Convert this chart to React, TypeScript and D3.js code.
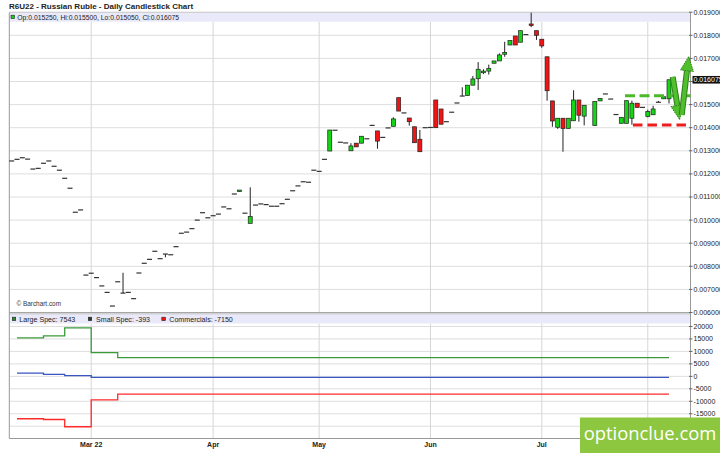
import React from "react";
import * as d3 from "d3";

// ---------- DATA ----------
const openP: (number | null)[] = [
  0.01256, 0.01263, 0.0127, 0.01264, 0.01221, 0.01224, 0.01246, 0.01256, 0.01233, 0.01216,
  0.01181, 0.01138, 0.01034, 0.01044, 0.00762, 0.0077, 0.00751, 0.00715, 0.00687, 0.00628,
  0.00733, 0.00684, 0.00687, 0.0066, 0.00771, 0.00813, 0.0083, 0.00865, 0.00833, 0.00853,
  0.0085, 0.00885, 0.00943, 0.00948, 0.00963, 0.01, 0.01032, 0.0101, 0.01019, 0.01026,
  0.01057, 0.01049, 0.01113, 0.01124, 0.0103, 0.00986, 0.01065, 0.0107, 0.01067, 0.0106,
  0.0106, 0.01071, 0.0109, 0.01127, 0.01148, 0.01166, 0.01164, 0.01216, 0.01211, 0.01263,
  0.01299, 0.01389, 0.01337, 0.01334, 0.013, 0.01333, 0.01333, 0.01352, 0.0141, 0.01386,
  0.01358, 0.01399, 0.01406, 0.0153, 0.01464, 0.01442, 0.01404, 0.0135, 0.014, 0.01401,
  0.0152, 0.01481, 0.01426, 0.01467, 0.01507, 0.01537, 0.01539, 0.01584, 0.01612, 0.01638,
  0.01645, 0.01679, 0.01689, 0.01718, 0.01758, 0.01797, 0.0177, 0.01803, 0.01849, 0.0182,
  0.01783, 0.01707, 0.01516, 0.01402, 0.01441, 0.01397, 0.0143, 0.0152, 0.0145, null,
  0.01409, 0.01516, 0.01546, 0.01524, 0.01457, 0.01419, 0.01419, 0.01441, 0.01506, 0.01488,
  0.01448, 0.01456, 0.0151, 0.01525, 0.01525,
];
const highP: (number | null)[] = [
  0.01256, 0.01263, 0.0127, 0.01264, 0.01221, 0.01224, 0.01246, 0.01256, 0.01233, 0.01216,
  0.01181, 0.01138, 0.01034, 0.01044, 0.00762, 0.0077, 0.00751, 0.00715, 0.00687, 0.00628,
  0.00733, 0.00772, 0.00687, 0.0066, 0.00771, 0.00813, 0.0083, 0.00865, 0.00833, 0.00853,
  0.0085, 0.00885, 0.00943, 0.00948, 0.00963, 0.01, 0.01032, 0.0101, 0.01019, 0.01026,
  0.01057, 0.01049, 0.01113, 0.0113, 0.0103, 0.01142, 0.01065, 0.0107, 0.01067, 0.0106,
  0.0106, 0.01071, 0.0109, 0.01127, 0.01148, 0.01166, 0.01164, 0.01216, 0.01211, 0.01263,
  0.0139, 0.01389, 0.01337, 0.01334, 0.01333, 0.01333, 0.01363, 0.01352, 0.0141, 0.01386,
  0.01358, 0.01399, 0.01445, 0.0153, 0.01464, 0.01442, 0.01404, 0.0139, 0.014, 0.01401,
  0.0152, 0.01481, 0.01426, 0.01467, 0.01507, 0.01575, 0.01584, 0.01624, 0.01684, 0.01653,
  0.01673, 0.01689, 0.01722, 0.01772, 0.01777, 0.01797, 0.0182, 0.01803, 0.01898, 0.0182,
  0.01783, 0.01707, 0.01516, 0.01441, 0.01441, 0.01441, 0.01562, 0.0152, 0.01497, null,
  0.01515, 0.01527, 0.01546, 0.01524, 0.01457, 0.01445, 0.01517, 0.01517, 0.01506, 0.01488,
  0.01478, 0.01495, 0.01516, 0.01534, 0.016075,
];
const lowP: (number | null)[] = [
  0.01256, 0.01263, 0.0127, 0.01264, 0.01221, 0.01224, 0.01246, 0.01256, 0.01233, 0.01216,
  0.01181, 0.01138, 0.01034, 0.01044, 0.00762, 0.0077, 0.00751, 0.00715, 0.00687, 0.00628,
  0.00733, 0.00684, 0.00687, 0.0066, 0.00771, 0.00813, 0.0083, 0.00865, 0.00833, 0.00839,
  0.0085, 0.00885, 0.00943, 0.00948, 0.00963, 0.01, 0.01032, 0.0101, 0.01019, 0.01026,
  0.01057, 0.01049, 0.01113, 0.01124, 0.0103, 0.00986, 0.01065, 0.0107, 0.01067, 0.0106,
  0.0106, 0.01071, 0.0109, 0.01127, 0.01148, 0.01166, 0.01164, 0.01216, 0.01211, 0.01263,
  0.01299, 0.01389, 0.01337, 0.01334, 0.013, 0.01317, 0.01333, 0.01352, 0.0141, 0.01309,
  0.01358, 0.01399, 0.01406, 0.01472, 0.01464, 0.01409, 0.01335, 0.01296, 0.014, 0.01401,
  0.014, 0.01415, 0.01426, 0.01467, 0.01507, 0.01537, 0.01539, 0.01584, 0.01563, 0.01632,
  0.0163, 0.01679, 0.01689, 0.01707, 0.01758, 0.01758, 0.0177, 0.01803, 0.01835, 0.0178,
  0.01746, 0.01517, 0.01404, 0.01395, 0.01296, 0.01397, 0.0143, 0.01426, 0.0141, null,
  0.01409, 0.01516, 0.01546, 0.01524, 0.01457, 0.01419, 0.01419, 0.01413, 0.01488, 0.01488,
  0.01445, 0.01456, 0.0151, 0.01525, 0.01505,
];
const closeP: (number | null)[] = [
  0.01256, 0.01263, 0.0127, 0.01264, 0.01221, 0.01224, 0.01246, 0.01256, 0.01233, 0.01216,
  0.01181, 0.01138, 0.01034, 0.01044, 0.00762, 0.0077, 0.00751, 0.00715, 0.00687, 0.00628,
  0.00733, 0.00684, 0.00687, 0.0066, 0.00771, 0.00813, 0.0083, 0.00865, 0.00833, 0.00853,
  0.0085, 0.00885, 0.00943, 0.00948, 0.00963, 0.01, 0.01032, 0.0101, 0.01019, 0.01026,
  0.01057, 0.01049, 0.01113, 0.0113, 0.0103, 0.01015, 0.01065, 0.0107, 0.01067, 0.0106,
  0.0106, 0.01071, 0.0109, 0.01127, 0.01148, 0.01166, 0.01164, 0.01216, 0.01211, 0.01263,
  0.0139, 0.01389, 0.01337, 0.01334, 0.01321, 0.01317, 0.01363, 0.01352, 0.0141, 0.01342,
  0.01358, 0.01399, 0.01438, 0.01472, 0.01464, 0.01426, 0.01335, 0.01296, 0.014, 0.01401,
  0.014, 0.01415, 0.01426, 0.01467, 0.01507, 0.01537, 0.01584, 0.01611, 0.01653, 0.01645,
  0.01657, 0.01689, 0.01715, 0.01726, 0.01777, 0.01758, 0.0182, 0.01803, 0.01843, 0.018,
  0.01754, 0.0156, 0.01429, 0.01441, 0.01397, 0.01441, 0.0152, 0.01454, 0.01497, null,
  0.01513, 0.01527, 0.01546, 0.01524, 0.01457, 0.01445, 0.01517, 0.01506, 0.01488, 0.01488,
  0.0147, 0.01481, 0.0151, 0.01534, 0.016075,
];

// month gridlines (first trading day index); labels shown for the visible ones
const monthLabels = ["Mar 22", "Apr", "May", "Jun", "Jul"];
const monthIndex = [15, 38, 58, 79, 100, 120];

const priceTicks = [0.006, 0.007, 0.008, 0.009, 0.01, 0.011, 0.012, 0.013, 0.014, 0.015, 0.016, 0.017, 0.018, 0.019];
const cotTicks = [20000, 15000, 10000, 5000, 0, -5000, -10000, -15000, -20000];
const cotTickLabels = ["20000", "15000", "10000", "5000", "0", "-5000", "-10000", "-15000"];

const cotWeekIndex = [1, 6, 10, 15, 20];
const largeSpec = [15400, 16200, 19400, 9500, 7543];
const smallSpec = [1300, 800, 300, -393, -393];
const commercials = [-17000, -17300, -20200, -9400, -7150];
const cotEndIndex = 124;

const supportLevel = 0.01412;
const resistanceLevel = 0.015385;
const lastPrice = 0.016075;

const FONT = "'Liberation Sans', Arial, sans-serif";

export default function App() {
  const L = 9.3;
  const R = 690.5;
  const mainBottom = 312.7;
  const lowTop = 313.8;
  const lowBottom = 438.5;

  const xS = d3.scaleLinear().domain([0, 124]).range([11.7, 669]);
  const yM = d3.scaleLinear().domain([0.006, 0.019]).range([312.5, 12.2]);
  const yC = d3.scaleLinear().domain([-25000, 25000]).range([438.7, 314]);

  const stepLine = (vals: number[]) => {
    const pts: [number, number][] = cotWeekIndex.map((d, i) => [d, vals[i]]);
    pts.push([cotEndIndex, vals[vals.length - 1]]);
    return d3
      .line<[number, number]>()
      .x((d) => xS(d[0]))
      .y((d) => yC(d[1]))
      .curve(d3.curveStepAfter)(pts) as string;
  };

  const candles = openP.map((o, i) => {
    const h = highP[i], l = lowP[i], c = closeP[i];
    if (o == null || h == null || l == null || c == null) return null;
    const x = xS(i);
    const wick =
      h > l ? (
        <line x1={x} x2={x} y1={yM(h)} y2={yM(l)} stroke="#222" strokeWidth={1} />
      ) : null;
    if (Math.abs(o - c) < 0.00002) {
      return (
        <g key={i}>
          {wick}
          <line x1={x - 2.5} x2={x + 2.5} y1={yM(c)} y2={yM(c)} stroke="#333" strokeWidth={1.2} />
        </g>
      );
    }
    const up = c > o;
    const top = yM(Math.max(o, c));
    const bot = yM(Math.min(o, c));
    return (
      <g key={i}>
        {wick}
        <rect
          x={x - 2}
          y={top}
          width={4}
          height={Math.max(1.5, bot - top)}
          fill={up ? "#16d416" : "#f21414"}
          stroke="#222"
          strokeWidth={0.7}
        />
      </g>
    );
  });

  const arrow = (x0: number, y0: number, x1: number, y1: number, key: string) => {
    const dx = x1 - x0, dy = y1 - y0;
    const len = Math.hypot(dx, dy);
    const ux = dx / len, uy = dy / len;
    const headLen = 14, headW = 6.5;
    const bx = x1 - ux * headLen, by = y1 - uy * headLen;
    const px = -uy, py = ux;
    const head = [
      [x1, y1],
      [bx + px * headW, by + py * headW],
      [bx - px * headW, by - py * headW],
    ]
      .map((p) => p.join(","))
      .join(" ");
    return (
      <g key={key}>
        <line x1={x0} y1={y0} x2={bx} y2={by} stroke="#2f7d1c" strokeWidth={6} />
        <line x1={x0} y1={y0} x2={bx} y2={by} stroke="#4fbf2c" strokeWidth={4} />
        <polygon points={head} fill="#4fbf2c" stroke="#2f7d1c" strokeWidth={1} strokeDasharray="1.5 1" />
      </g>
    );
  };

  const tagY = yM(lastPrice);

  return (
    <svg
      width={720}
      height={453}
      style={{ position: "absolute", left: 0, top: 0, background: "#fff", fontFamily: FONT }}
    >
      <rect x={0} y={0} width={720} height={453} fill="#fff" />

      <text x={9} y={8.6} fontSize={8} fontWeight="bold" fill="#222">
        R6U22 - Russian Ruble - Daily Candlestick Chart
      </text>

      {priceTicks.map((t) => (
        <line key={"hg" + t} x1={L} x2={R} y1={yM(t)} y2={yM(t)} stroke="#dedede" strokeWidth={1} />
      ))}
      {cotTicks.map((t) => (
        <line key={"cg" + t} x1={L} x2={R} y1={yC(t)} y2={yC(t)} stroke="#dedede" strokeWidth={1} />
      ))}
      {monthIndex.map((m) => (
        <g key={"vg" + m}>
          <line x1={xS(m)} x2={xS(m)} y1={21.7} y2={mainBottom} stroke="#d6d6d6" strokeWidth={1} />
          <line x1={xS(m)} x2={xS(m)} y1={323.5} y2={lowBottom} stroke="#d6d6d6" strokeWidth={1} />
        </g>
      ))}

      <rect x={L} y={12.7} width={R - L} height={9} fill="#e9e9f9" />
      <rect x={L} y={314} width={R - L} height={9.5} fill="#e9e9f9" />

      <line x1={L} x2={R} y1={12.4} y2={12.4} stroke="#c8c8c8" strokeWidth={0.8} />
      <line x1={L} x2={R} y1={mainBottom} y2={mainBottom} stroke="#999" strokeWidth={1} />
      <line x1={L} x2={R} y1={lowTop} y2={lowTop} stroke="#bbb" strokeWidth={0.8} />
      <line x1={L} x2={R} y1={lowBottom} y2={lowBottom} stroke="#999" strokeWidth={1} />
      <line x1={L} x2={L} y1={12.4} y2={lowBottom} stroke="#999" strokeWidth={1} />
      <line x1={R} x2={R} y1={12.4} y2={lowBottom} stroke="#999" strokeWidth={1} />

      <rect x={11} y={15.2} width={3.6} height={3.4} fill="#16d416" stroke="#222" strokeWidth={0.6} />
      <text x={17.3} y={19.6} fontSize={6.8} fill="#222">
        Op:0.015250, Hi:0.015500, Lo:0.015050, Cl:0.016075
      </text>

      <rect x={12.3} y={317.2} width={3.4} height={3.4} fill="#2d8a2d" stroke="#222" strokeWidth={0.6} />
      <text x={19.3} y={321.5} fontSize={7.1} fill="#222">Large Spec: 7543</text>
      <rect x={88.3} y={317.2} width={3.4} height={3.4} fill="#2a3a2a" stroke="#222" strokeWidth={0.6} />
      <text x={96} y={321.5} fontSize={7.1} fill="#222">Small Spec: -393</text>
      <rect x={161.8} y={317.2} width={3.6} height={3.4} fill="#f21414" stroke="#222" strokeWidth={0.6} />
      <text x={169.3} y={321.5} fontSize={7.1} fill="#222">Commercials: -7150</text>

      <g>{candles}</g>

      <text x={16.5} y={306.3} fontSize={6.4} fill="#333">© Barchart.com</text>

      <line
        x1={xS(115.7)}
        x2={R}
        y1={yM(resistanceLevel)}
        y2={yM(resistanceLevel)}
        stroke="#4cb82a"
        strokeWidth={3}
        strokeDasharray="10 4.5"
      />
      <line
        x1={xS(117.2)}
        x2={R}
        y1={yM(supportLevel)}
        y2={yM(supportLevel)}
        stroke="#ee1c1c"
        strokeWidth={3}
        strokeDasharray="9.5 5"
      />
      {arrow(xS(124.7), yM(0.0162), xS(126), yM(0.01436), "down")}
      {arrow(xS(126.4), yM(0.01455), xS(127.7), yM(0.01707), "up")}

      <path d={stepLine(largeSpec)} fill="none" stroke="#3a9a3a" strokeWidth={1.3} />
      <path d={stepLine(smallSpec)} fill="none" stroke="#3a55c4" strokeWidth={1.3} />
      <path d={stepLine(commercials)} fill="none" stroke="#ff2a2a" strokeWidth={1.3} />

      {priceTicks.map((t) => (
        <g key={"pt" + t}>
          <line x1={R - 1.5} x2={R + 2} y1={yM(t)} y2={yM(t)} stroke="#666" strokeWidth={1} />
          {Math.abs(yM(t) - tagY) > 8 ? (
            <text x={693.5} y={yM(t)} dy="0.35em" fontSize={7} fill="#222">
              {d3.format(".6f")(t)}
            </text>
          ) : null}
        </g>
      ))}
      <rect x={692.5} y={tagY - 3.8} width={28} height={7.6} fill="#111" />
      <text x={693.5} y={tagY} dy="0.35em" fontSize={7} fill="#fff">
        {d3.format(".6f")(lastPrice)}
      </text>

      {cotTicks.map((t, i) => (
        <g key={"ct" + t}>
          <line x1={R - 1.5} x2={R + 2} y1={yC(t)} y2={yC(t)} stroke="#666" strokeWidth={1} />
          {cotTickLabels[i] !== undefined ? (
            <text x={693.5} y={yC(t)} dy="0.35em" fontSize={7} fill="#222">
              {cotTickLabels[i]}
            </text>
          ) : null}
        </g>
      ))}

      {monthLabels.map((lab, i) => (
        <text
          key={"ml" + lab}
          x={xS(monthIndex[i])}
          y={447.3}
          fontSize={7}
          fontWeight="bold"
          textAnchor="middle"
          fill="#222"
        >
          {lab}
        </text>
      ))}

      <rect x={580} y={417.5} width={140} height={36} fill="#8dc63f" />
      <text x={650} y={440} fontSize={18.4} fill="#fff" textAnchor="middle" fontFamily="'Open Sans', Arial, sans-serif">
        optionclue.com
      </text>
    </svg>
  );
}
